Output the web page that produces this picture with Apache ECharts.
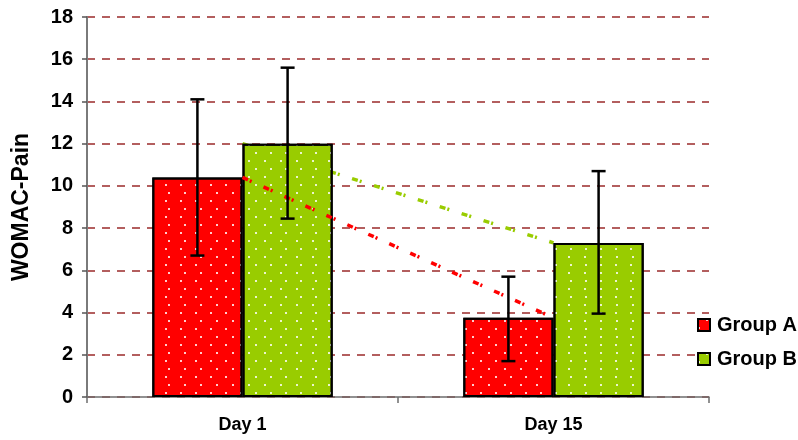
<!DOCTYPE html>
<html>
<head>
<meta charset="utf-8">
<script src="https://cdn.jsdelivr.net/npm/echarts@6/dist/echarts.min.js"></script>
<style>html,body{margin:0;padding:0;background:#fff}#c{width:798px;height:440px}</style>
</head>
<body>
<div id="c"></div>
<script>
var categories = ['Day 1', 'Day 15'];
var groupA = [10.4, 3.75];
var groupB = [12.0, 7.3];
var errA = [[6.7, 14.1], [1.7, 5.7]];
var errB = [[8.45, 15.6], [3.95, 10.7]];
var yTicks = [0, 2, 4, 6, 8, 10, 12, 14, 16, 18];

var FONT = '"Liberation Sans", Arial, sans-serif';
var decal = {
  symbol: 'rect', symbolSize: 1, color: 'rgba(255,255,255,0.8)',
  dashArrayX: [[2, 13], [0, 7.5, 2, 5.5]], dashArrayY: [2, 5.5], rotation: 0
};

function errSeries(name, errs, sign) {
  var data = errs.map(function (e, i) { return [i, e[0], e[1]]; });
  return {
    type: 'custom', name: name, z: 5,
    data: data,
    encode: { x: 0, y: [1, 2] },
    renderItem: function (params, api) {
      var i = api.value(0);
      var lo = api.coord([i, api.value(1)]);
      var hi = api.coord([i, api.value(2)]);
      var band = api.size([1, 0])[0];
      var bw = band * 0.29;
      var x = lo[0] + sign * bw / 2;
      var cap = 7;
      var st = { stroke: '#000', lineWidth: 2.5 };
      return { type: 'group', children: [
        { type: 'line', shape: { x1: x, y1: lo[1], x2: x, y2: hi[1] }, style: st },
        { type: 'line', shape: { x1: x - cap, y1: lo[1], x2: x + cap, y2: lo[1] }, style: st },
        { type: 'line', shape: { x1: x - cap, y1: hi[1], x2: x + cap, y2: hi[1] }, style: st }
      ]};
    }
  };
}

var chart = echarts.init(document.getElementById('c'));
chart.setOption({
  animation: false,
  backgroundColor: '#fff',
  grid: { left: 87, right: 89, top: 17, bottom: 43 },
  legend: {
    data: ['Group A', 'Group B'],
    orient: 'vertical', left: 692, top: 310,
    itemWidth: 12, itemHeight: 12, itemGap: 14, icon: 'rect',
    textStyle: { fontFamily: FONT, fontWeight: 'bold', fontSize: 20, color: '#000', padding: [0, 0, 0, 2] }
  },
  xAxis: {
    type: 'category', data: categories, boundaryGap: true,
    axisLine: { lineStyle: { color: '#6e6e6e', width: 1.5 } },
    axisTick: { show: true, length: 6, lineStyle: { color: '#6e6e6e', width: 1.5 } },
    axisLabel: { fontFamily: FONT, fontWeight: 'bold', fontSize: 18, color: '#000', margin: 19 },
    splitLine: { show: false }
  },
  yAxis: {
    type: 'value', min: 0, max: 18, interval: 2,
    name: 'WOMAC-Pain', nameLocation: 'middle', nameGap: 54,
    nameTextStyle: { fontFamily: FONT, fontWeight: 'bold', fontSize: 23, color: '#000' },
    axisLine: { show: true, lineStyle: { color: '#7a7a7a', width: 2 } },
    axisTick: { show: true, length: 5, lineStyle: { color: '#555', width: 1.5 } },
    axisLabel: {
      fontFamily: FONT, fontWeight: 'bold', fontSize: 20, color: '#000', margin: 14,
      formatter: function (v) { return yTicks.indexOf(v) >= 0 ? String(v) : ''; }
    },
    splitLine: { show: true, lineStyle: { color: '#9b2a2a', width: 1.5, type: [8, 7] } }
  },
  series: [
    { type: 'bar', name: 'Group A', data: groupA, barGap: '0%', barCategoryGap: '42%', z: 2,
      itemStyle: { color: '#ff0000', borderColor: '#000', borderWidth: 2, decal: decal } },
    { type: 'bar', name: 'Group B', data: groupB, barGap: '0%', barCategoryGap: '42%', z: 2,
      itemStyle: { color: '#99cc00', borderColor: '#000', borderWidth: 2, decal: decal } },
    { type: 'line', name: 'Trend B', data: groupB, symbol: 'none', z: 1,
      lineStyle: { color: '#99cc00', width: 3.5, type: [6, 2, 2, 13] } },
    { type: 'line', name: 'Trend A', data: groupA, symbol: 'none', z: 4,
      lineStyle: { color: '#ff0000', width: 3.5, type: [6, 2, 2, 13] } },
    errSeries('Err A', errA, -1),
    errSeries('Err B', errB, 1)
  ]
});
</script>
</body>
</html>
